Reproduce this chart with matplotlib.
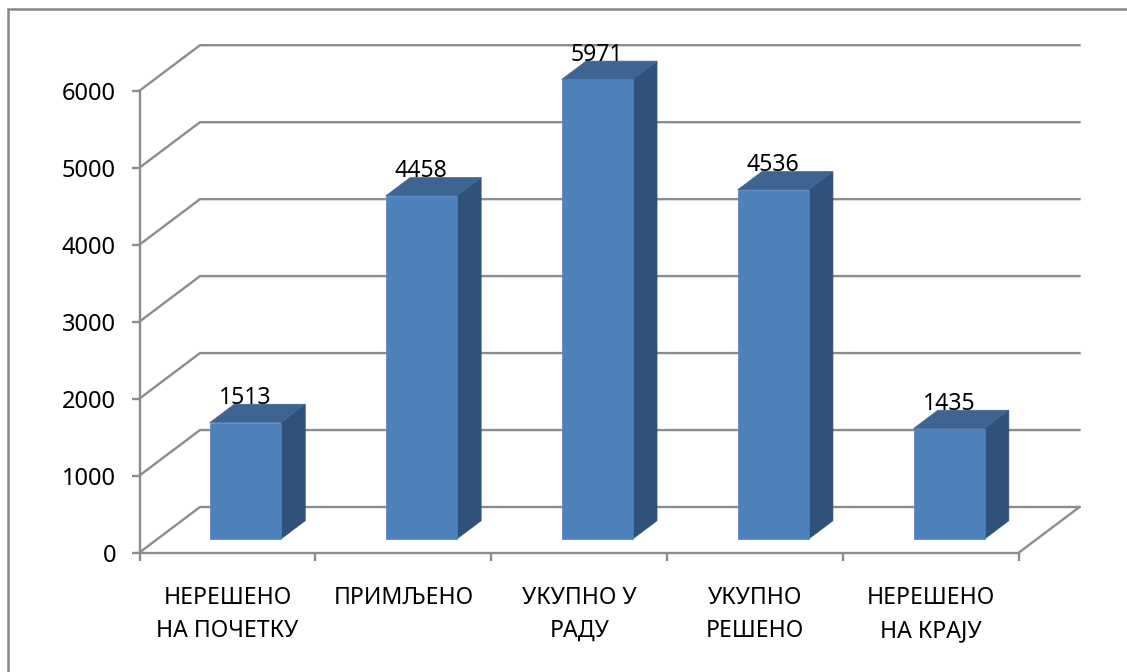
import matplotlib
matplotlib.use("Agg")
import matplotlib.pyplot as plt
from matplotlib.lines import Line2D

categories = ["НЕРЕШЕНО\nНА ПОЧЕТКУ", "ПРИМЉЕНО", "УКУПНО У\nРАДУ", "УКУПНО\nРЕШЕНО", "НЕРЕШЕНО\nНА КРАЈУ"]
values = [1513, 4458, 5971, 4536, 1435]
y_ticks = [0, 1000, 2000, 3000, 4000, 5000, 6000]

W, H = 1127, 672
GRAY = "#8c8c8c"
FRONT, TOP, SIDE = "#4f81bd", "#3e6592", "#30527a"
plt.rcParams["font.family"] = ["Noto Sans", "DejaVu Sans"]
FS = 17.0
LW = 1.7

fig = plt.figure(figsize=(W / 100, H / 100), dpi=100, facecolor="white")
L, R, T0, B0 = 139.5, 1019.0, 90.7, 552.5
ax = fig.add_axes([L / W, 1 - B0 / H, (R - L) / W, (B0 - T0) / H])
ax.set_xlim(0, len(categories))
ax.set_ylim(0, 6000)
ax.patch.set_visible(False)

# oblique projection: depth d in 0..1 shifts a data point up and to the right
px_x = len(categories) / (R - L)
px_y = 6000 / (B0 - T0)
DX, DY = 60.5 * px_x, 45.5 * px_y


def proj(x, v, d):
    return x + d * DX, v + d * DY


for s in ("top", "right"):
    ax.spines[s].set_visible(False)
for s in ("left", "bottom"):
    ax.spines[s].set_color(GRAY)
    ax.spines[s].set_linewidth(LW)

# back wall and floor
for v in y_ticks:
    xa, ya = proj(0, v, 0)
    xb, yb = proj(0, v, 1)
    xc, yc = proj(len(categories), v, 1)
    ax.plot([xa, xb, xc], [ya, yb, yc], color=GRAY, lw=LW, clip_on=False, zorder=1,
            solid_joinstyle="miter")
xa, ya = proj(len(categories), 0, 0)
xb, yb = proj(len(categories), 0, 1)
ax.plot([xa, xb], [ya, yb], color=GRAY, lw=LW, clip_on=False, zorder=1)

# bars
d0, d1 = 0.297, 0.699
bar_w = 71 / (R - L) * len(categories)
for i, v in enumerate(values):
    c = i + 0.5
    xl, xr = c - bar_w / 2, c + bar_w / 2
    f = [proj(xl, 0, d0), proj(xr, 0, d0), proj(xr, v, d0), proj(xl, v, d0)]
    s = [proj(xr, 0, d0), proj(xr, 0, d1), proj(xr, v, d1), proj(xr, v, d0)]
    t = [proj(xl, v, d0), proj(xr, v, d0), proj(xr, v, d1), proj(xl, v, d1)]
    for poly, col in ((s, SIDE), (t, TOP), (f, FRONT)):
        ax.fill(*zip(*poly), facecolor=col, edgecolor=col, lw=0.5, clip_on=False, zorder=3)
    ax.annotate(str(v), xy=proj(c, v, d0), xytext=(0, 18.5 * 0.72), textcoords="offset points",
                ha="center", va="baseline", fontsize=16.6, color="black", zorder=5,
                annotation_clip=False)

ax.set_yticks(y_ticks)
ax.set_yticklabels([str(t) for t in y_ticks], fontsize=FS, color="black")
ax.tick_params(axis="y", length=6, width=LW, color=GRAY, pad=11)
ax.set_xticks(range(len(categories) + 1))
ax.set_xticklabels([])
ax.tick_params(axis="x", which="major", length=6, width=LW, color=GRAY)
ax.set_xticks([i + 0.5 for i in range(len(categories))], minor=True)
ax.set_xticklabels(categories, minor=True, fontsize=16.6, color="black", linespacing=1.5)
ax.tick_params(axis="x", which="minor", length=0, pad=24)

# chart frame: only top and left edges fall inside the image
fig.add_artist(Line2D([7.5 / W, 7.5 / W, 1], [0, 1 - 8.5 / H, 1 - 8.5 / H], color="#868686", lw=1.8,
                      solid_joinstyle="miter", transform=fig.transFigure))

fig.savefig("out.png", dpi=100, facecolor="white")
